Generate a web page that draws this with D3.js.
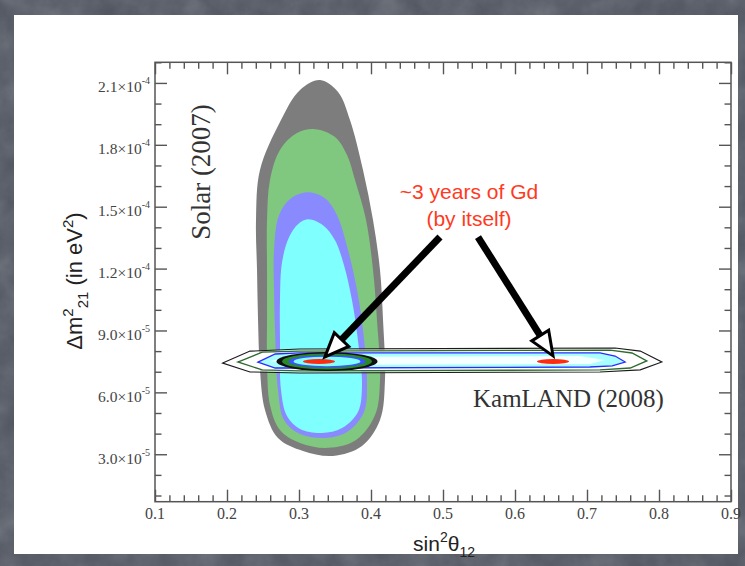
<!DOCTYPE html>
<html>
<head>
<meta charset="utf-8">
<script src="https://cdn.jsdelivr.net/npm/d3@7"></script>
<style>
html,body{margin:0;padding:0;background:#4e535e;}
svg{display:block;}
</style>
</head>
<body>
<svg id="chart" width="745" height="566"></svg>
<script>
// ---------- DATA (x = sin^2 theta12, y = Delta m^2_21 in units of 1e-5 eV^2) ----------
const xMajorTicks = [0.1, 0.2, 0.3, 0.4, 0.5, 0.6, 0.7, 0.8, 0.9];
const xTickLabels = ["0.1", "0.2", "0.3", "0.4", "0.5", "0.6", "0.7", "0.8", "0.9"];
const yMajorTicks = [3, 6, 9, 12, 15, 18, 21];
const yTickMantissa = ["3.0", "6.0", "9.0", "1.2", "1.5", "1.8", "2.1"];
const yTickExponent = ["-5", "-5", "-5", "-4", "-4", "-4", "-4"];

// Solar (2007) allowed regions, outer to inner
const solarGray = [[0.3292,21.14],[0.3542,20.56],[0.3708,19.20],[0.3889,16.78],[0.4028,14.36],[0.4125,11.93],[0.4167,9.51],[0.4194,6.60],[0.4125,4.66],[0.3875,3.40],[0.3472,2.92],[0.3056,3.16],[0.2708,3.79],[0.2528,5.15],[0.2458,7.09],[0.2431,9.51],[0.2417,11.93],[0.2403,14.36],[0.2458,16.78],[0.2736,19.11],[0.3014,20.66]];
const solarGreen = [[0.3222,18.76],[0.3500,18.38],[0.3667,17.51],[0.3778,16.29],[0.3931,14.36],[0.4028,11.93],[0.4083,9.51],[0.4125,6.60],[0.4056,4.90],[0.3792,3.69],[0.3403,3.31],[0.3014,3.55],[0.2736,4.18],[0.2597,5.39],[0.2556,7.57],[0.2556,9.51],[0.2556,11.93],[0.2556,14.36],[0.2597,16.29],[0.2736,17.75],[0.2972,18.57]];
const solarBlue = [[0.3125,15.70],[0.3361,15.41],[0.3528,14.59],[0.3681,12.90],[0.3806,10.96],[0.3889,9.02],[0.3944,6.60],[0.3903,5.05],[0.3667,4.08],[0.3361,3.79],[0.3014,3.98],[0.2792,4.66],[0.2708,6.11],[0.2667,9.02],[0.2653,10.96],[0.2653,12.90],[0.2722,14.59],[0.2889,15.41]];
const solarCyan = [[0.3125,14.39],[0.3333,14.10],[0.3500,13.37],[0.3625,12.16],[0.3736,10.46],[0.3819,8.52],[0.3875,6.36],[0.3819,5.05],[0.3597,4.27],[0.3319,4.03],[0.3014,4.22],[0.2833,4.85],[0.2750,6.11],[0.2736,8.52],[0.2736,10.46],[0.2764,12.30],[0.2861,13.52],[0.2986,14.15]];

// KamLAND (2008) contours
const kamOuter = [[0.194,7.42],[0.232,8.00],[0.301,8.10],[0.739,8.15],[0.774,8.00],[0.804,7.47],[0.774,7.09],[0.718,6.99],[0.301,6.94],[0.232,6.99]];
const kamGreen = [[0.215,7.47],[0.249,7.95],[0.301,8.00],[0.732,8.05],[0.7625,7.91],[0.783,7.52],[0.760,7.18],[0.718,7.09],[0.301,7.04],[0.249,7.09]];
const kamBlue = [[0.243,7.47],[0.267,7.86],[0.301,7.91],[0.718,7.91],[0.739,7.76],[0.753,7.47],[0.735,7.28],[0.704,7.23],[0.301,7.18],[0.267,7.18]];
const kamCore = [[0.260,7.52],[0.2875,7.71],[0.690,7.76],[0.725,7.57],[0.704,7.37],[0.301,7.33]];

// Gd combined fit (ellipses: center x, center y, rx, ry)
const gdRings = [[0.3389,7.50,0.0701,0.46],[0.3389,7.50,0.0625,0.39],[0.3389,7.50,0.0535,0.30],[0.3389,7.50,0.0465,0.23]];
const gdRingColors = ["#111111","#2a8a2a","#3a55ff","#80ffff"];
// ~3 years of Gd (by itself) best-fit spots
const gdSpots = [[0.3278,7.50,0.0222,0.12],[0.6528,7.50,0.0222,0.12]];
// arrows: start (x,y) -> tip (x,y)
const arrowStarts = [[0.4958,13.53],[0.5486,13.53]];
const arrowTips = [[0.336,7.72],[0.6528,7.77]];

// ---------- CHART ----------
const svg = d3.select("#chart");
const W = 745, H = 566;
const M = {left:155, right:731, top:62.3, bottom:501.7};

const defs = svg.append("defs");
const f = defs.append("filter").attr("id","noise").attr("x",0).attr("y",0).attr("width","100%").attr("height","100%");
f.append("feTurbulence").attr("type","fractalNoise").attr("baseFrequency","0.035").attr("numOctaves",4).attr("seed",7);
f.append("feColorMatrix").attr("type","saturate").attr("values","0");

svg.append("rect").attr("width",W).attr("height",H).attr("fill","#4f5460");
svg.append("rect").attr("width",W).attr("height",H).attr("filter","url(#noise)").attr("opacity",0.28);
svg.append("rect").attr("x",14).attr("y",15).attr("width",724).attr("height",539).attr("fill","#ffffff");

const x = d3.scaleLinear().domain([0.1,0.9]).range([M.left,M.right]);
const y = d3.scaleLinear().domain([0.7,22]).range([M.bottom,M.top]);

const closed = d3.line().x(d=>x(d[0])).y(d=>y(d[1])).curve(d3.curveCatmullRomClosed.alpha(0.5));
const poly = d3.line().x(d=>x(d[0])).y(d=>y(d[1])).curve(d3.curveLinearClosed);

const plot = svg.append("g");
[[solarGray,"#7d7d7d"],[solarGreen,"#80c880"],[solarBlue,"#8a8aff"],[solarCyan,"#80ffff"]].forEach(([pts,c])=>{
  plot.append("path").attr("d",closed(pts)).attr("fill",c).attr("stroke","none");
});

plot.append("path").attr("d",poly(kamOuter)).attr("fill","#ffffff").attr("fill-opacity",0.6).attr("stroke","#1a1a1a").attr("stroke-width",1.1);
plot.append("path").attr("d",poly(kamGreen)).attr("fill","#ffffff").attr("stroke","#2f6a2f").attr("stroke-width",1.4);
plot.append("path").attr("d",poly(kamBlue)).attr("fill","#a8ffff").attr("stroke","#2a2aff").attr("stroke-width",1.3);
plot.append("path").attr("d",poly(kamCore)).attr("fill","#f4ffff").attr("stroke","none");

gdRings.forEach((r,i)=>{
  plot.append("ellipse").attr("cx",x(r[0])).attr("cy",y(r[1]))
    .attr("rx",x(r[0]+r[2])-x(r[0])).attr("ry",y(r[1])-y(r[1]+r[3]))
    .attr("fill",gdRingColors[i]);
});
gdSpots.forEach(r=>{
  plot.append("ellipse").attr("cx",x(r[0])).attr("cy",y(r[1]))
    .attr("rx",x(r[0]+r[2])-x(r[0])).attr("ry",y(r[1])-y(r[1]+r[3]))
    .attr("fill","#ff2a10");
});

// axes (inward ticks on all four sides)
function minorRange(a,b,s){const out=[];for(let v=a;v<=b+1e-9;v+=s)out.push(+v.toFixed(4));return out;}
const xMinor = minorRange(0.1,0.9,0.02).filter(v=>!xMajorTicks.some(m=>Math.abs(m-v)<1e-6));
const yMinor = minorRange(1,22,1).filter(v=>!yMajorTicks.includes(v));
const axStyle = g=>{g.select(".domain").remove();g.selectAll("line").attr("stroke","#555").attr("stroke-width",1.4);g.selectAll("text").remove();};
svg.append("g").attr("transform",`translate(0,${M.bottom})`).call(d3.axisBottom(x).tickValues(xMinor).tickSize(-6.5)).call(axStyle);
svg.append("g").attr("transform",`translate(0,${M.bottom})`).call(d3.axisBottom(x).tickValues(xMajorTicks).tickSize(-12)).call(axStyle);
svg.append("g").attr("transform",`translate(0,${M.top})`).call(d3.axisTop(x).tickValues(xMinor).tickSize(-6.5)).call(axStyle);
svg.append("g").attr("transform",`translate(0,${M.top})`).call(d3.axisTop(x).tickValues(xMajorTicks).tickSize(-12)).call(axStyle);
svg.append("g").attr("transform",`translate(${M.left},0)`).call(d3.axisLeft(y).tickValues(yMinor).tickSize(-6.5)).call(axStyle);
svg.append("g").attr("transform",`translate(${M.left},0)`).call(d3.axisLeft(y).tickValues(yMajorTicks).tickSize(-12)).call(axStyle);
svg.append("g").attr("transform",`translate(${M.right},0)`).call(d3.axisRight(y).tickValues(yMinor).tickSize(-6.5)).call(axStyle);
svg.append("g").attr("transform",`translate(${M.right},0)`).call(d3.axisRight(y).tickValues(yMajorTicks).tickSize(-12)).call(axStyle);
svg.append("rect").attr("x",M.left).attr("y",M.top).attr("width",M.right-M.left).attr("height",M.bottom-M.top)
  .attr("fill","none").attr("stroke","#555").attr("stroke-width",1.5);

const serif = "'Liberation Serif','Times New Roman',serif";
const sans = "'Liberation Sans',Arial,sans-serif";

xMajorTicks.forEach((v,i)=>{
  svg.append("text").attr("x",x(v)).attr("y",M.bottom+17).attr("text-anchor","middle")
    .attr("font-family",serif).attr("font-size",16).attr("fill","#444").text(xTickLabels[i]);
});
yMajorTicks.forEach((v,i)=>{
  const t = svg.append("text").attr("x",M.left-5).attr("y",y(v)+9.5).attr("text-anchor","end")
    .attr("font-family",serif).attr("font-size",15.5).attr("fill","#444");
  t.append("tspan").text(yTickMantissa[i]+"\u00d710");
  t.append("tspan").attr("dy",-8).attr("font-size",10).text(yTickExponent[i]);
});

// axis titles
const xt = svg.append("text").attr("x",444).attr("y",551).attr("text-anchor","middle")
  .attr("font-family",sans).attr("font-size",21).attr("fill","#222");
xt.append("tspan").text("sin");
xt.append("tspan").attr("dy",-9).attr("font-size",14).text("2");
xt.append("tspan").attr("dy",9).text("\u03b8");
xt.append("tspan").attr("dy",6).attr("font-size",14).text("12");

const yt = svg.append("text").attr("transform","translate(82,281) rotate(-90)").attr("text-anchor","middle")
  .attr("font-family",sans).attr("font-size",22).attr("fill","#222");
yt.append("tspan").text("\u0394m");
yt.append("tspan").attr("dy",-9).attr("font-size",15).text("2");
yt.append("tspan").attr("dy",15).attr("font-size",15).text("21");
yt.append("tspan").attr("dy",-6).text(" (in eV");
yt.append("tspan").attr("dy",-9).attr("font-size",15).text("2");
yt.append("tspan").attr("dy",9).text(")");

// labels
svg.append("text").attr("transform","translate(210,172) rotate(-90)").attr("text-anchor","middle")
  .attr("font-family",serif).attr("font-size",27).attr("fill","#333").text("Solar (2007)");
svg.append("text").attr("x",473).attr("y",407).attr("font-family",serif).attr("font-size",25)
  .attr("fill","#333").text("KamLAND (2008)");

svg.append("text").attr("x",469).attr("y",199).attr("text-anchor","middle").attr("font-family",sans)
  .attr("font-size",21).attr("fill","#ff3a1f").text("~3 years of Gd");
svg.append("text").attr("x",469).attr("y",226).attr("text-anchor","middle").attr("font-family",sans)
  .attr("font-size",21).attr("fill","#ff3a1f").text("(by itself)");

// arrows
arrowStarts.forEach((s,i)=>{
  const x0=x(s[0]), y0=y(s[1]), x1=x(arrowTips[i][0]), y1=y(arrowTips[i][1]);
  const dx=x1-x0, dy=y1-y0, L=Math.hypot(dx,dy), ux=dx/L, uy=dy/L, nx=-uy, ny=ux;
  const hl=24, hw=10;
  const bx=x1-ux*hl, by=y1-uy*hl;
  svg.append("line").attr("x1",x0).attr("y1",y0).attr("x2",bx).attr("y2",by)
    .attr("stroke","#000").attr("stroke-width",7);
  svg.append("path").attr("d",`M${x1},${y1}L${bx+nx*hw},${by+ny*hw}L${bx-nx*hw},${by-ny*hw}Z`)
    .attr("fill","#fff").attr("stroke","#000").attr("stroke-width",3).attr("stroke-linejoin","miter");
});
</script>
</body>
</html>
